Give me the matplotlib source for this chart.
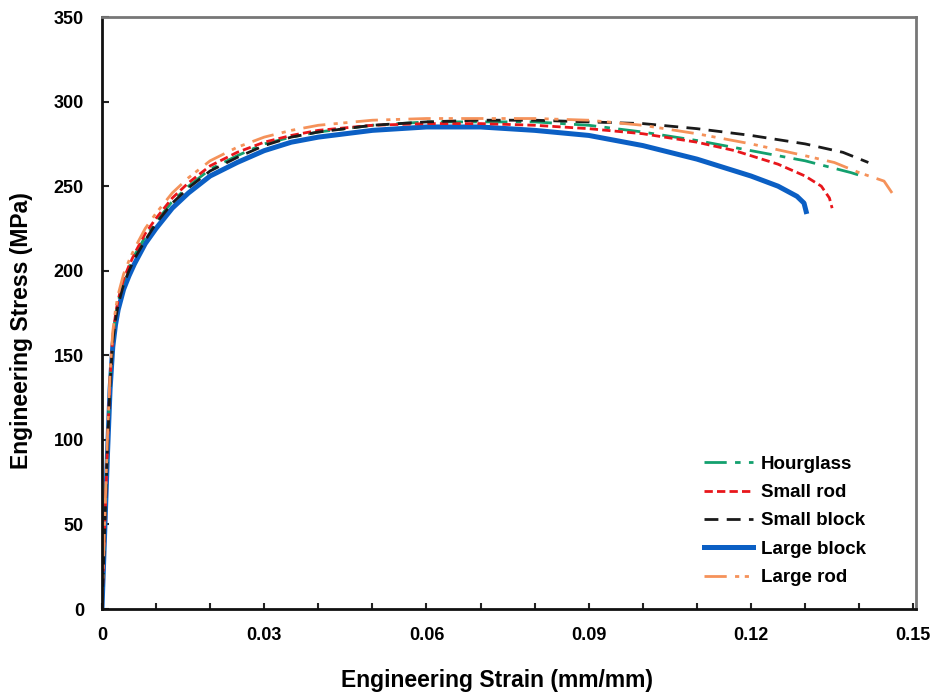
import matplotlib
matplotlib.use("Agg")
import matplotlib.pyplot as plt
from matplotlib.ticker import MultipleLocator

plt.rcParams["font.family"] = ["Liberation Sans", "DejaVu Sans"]
plt.rcParams["font.weight"] = "bold"

# strain (mm/mm) / stress (MPa)
hourglass_strain = [0, 0.0005, 0.001, 0.0015, 0.002, 0.0025, 0.003, 0.004, 0.005, 0.006, 0.008,
                    0.010, 0.013, 0.016, 0.020, 0.025, 0.030, 0.035, 0.040, 0.050, 0.060, 0.070,
                    0.080, 0.090, 0.100, 0.110, 0.120, 0.130, 0.1385, 0.1405]
hourglass_stress = [0, 48, 95, 135, 160, 173, 182, 194, 202, 209, 220,
                    229, 241, 250, 260, 268, 275, 279, 282, 286, 288, 288,
                    288, 286, 282, 277, 271, 265, 258, 256]

small_rod_strain = [0, 0.0005, 0.001, 0.0015, 0.002, 0.0025, 0.003, 0.004, 0.005, 0.006, 0.008,
                    0.010, 0.013, 0.016, 0.020, 0.025, 0.030, 0.035, 0.040, 0.050, 0.060, 0.070,
                    0.080, 0.090, 0.100, 0.110, 0.117, 0.125, 0.130, 0.133, 0.1345, 0.135]
small_rod_stress = [0, 48, 95, 136, 161, 174, 183, 195, 203, 210, 222,
                    231, 243, 252, 262, 270, 276, 280, 283, 286, 287, 287,
                    286, 284, 281, 276, 271, 263, 256, 250, 243, 237]

small_block_strain = [0, 0.0005, 0.001, 0.0015, 0.002, 0.0025, 0.003, 0.004, 0.005, 0.006, 0.008,
                      0.010, 0.013, 0.016, 0.020, 0.025, 0.030, 0.035, 0.040, 0.050, 0.060, 0.070,
                      0.080, 0.090, 0.100, 0.110, 0.120, 0.130, 0.137, 0.1417]
small_block_stress = [0, 46, 93, 133, 158, 171, 180, 192, 200, 207, 218,
                      228, 240, 249, 259, 267, 274, 279, 282, 286, 288, 289,
                      289, 288, 287, 284, 280, 275, 270, 264]

large_block_strain = [0, 0.0005, 0.001, 0.0015, 0.002, 0.0025, 0.003, 0.004, 0.005, 0.006, 0.008,
                      0.010, 0.013, 0.016, 0.020, 0.025, 0.030, 0.035, 0.040, 0.050, 0.060, 0.070,
                      0.080, 0.090, 0.100, 0.110, 0.120, 0.125, 0.1285, 0.1298, 0.1302]
large_block_stress = [0, 45, 90, 130, 155, 168, 177, 189, 197, 204, 216,
                      225, 237, 246, 256, 264, 271, 276, 279, 283, 285, 285,
                      283, 280, 274, 266, 256, 250, 244, 240, 235]

large_rod_strain = [0, 0.0005, 0.001, 0.0015, 0.002, 0.0025, 0.003, 0.004, 0.005, 0.006, 0.008,
                    0.010, 0.013, 0.016, 0.020, 0.025, 0.030, 0.035, 0.040, 0.050, 0.060, 0.070,
                    0.080, 0.090, 0.100, 0.110, 0.120, 0.130, 0.1354, 0.140, 0.1446, 0.1465]
large_rod_stress = [0, 52, 100, 140, 164, 177, 186, 198, 206, 213, 225,
                    234, 246, 255, 265, 273, 279, 283, 286, 289, 290, 290,
                    290, 289, 286, 281, 275, 268, 264, 258, 253, 244]

series = [
    ("Hourglass", hourglass_strain, hourglass_stress, "#13a06e", (0, (8, 3, 2, 3)), 2.0),
    ("Small rod", small_rod_strain, small_rod_stress, "#e8161b", (0, (3, 1.5)), 2.0),
    ("Small block", small_block_strain, small_block_stress, "#1a1a1a", (0, (5, 3)), 2.0),
    ("Large block", large_block_strain, large_block_stress, "#0b5fc4", "-", 3.6),
    ("Large rod", large_rod_strain, large_rod_stress, "#f5925a", (0, (8, 3, 1.5, 2, 1.5, 3)), 2.0),
]
legend_order = ["Hourglass", "Small rod", "Small block", "Large block", "Large rod"]

fig = plt.figure(figsize=(9.38, 6.95), dpi=100)
ax = fig.add_axes([0.1087, 0.1237, 0.8678, 0.8518])

# blue goes underneath the dashed ones
lines = {}
for label, x, y, color, ls, lw in [series[3], series[0], series[1], series[2], series[4]]:
    lines[label], = ax.plot(x, y, color=color, linestyle=ls, linewidth=lw, label=label)

ax.set_xlim(0, 0.1505)
ax.set_ylim(0, 350)
ax.set_xticks([0, 0.03, 0.06, 0.09, 0.12, 0.15])
ax.set_xticklabels(["0", "0.03", "0.06", "0.09", "0.12", "0.15"])
ax.xaxis.set_minor_locator(MultipleLocator(0.01))
ax.yaxis.set_major_locator(MultipleLocator(50))
ax.tick_params(axis="both", which="both", direction="in", labelsize=13, width=1.5, color="#222222")
ax.tick_params(axis="x", which="both", length=4, pad=13)
ax.tick_params(axis="y", which="major", length=5, pad=13)

for side in ["left", "bottom"]:
    ax.spines[side].set_linewidth(2.0)
    ax.spines[side].set_color("#111111")
for side in ["top", "right"]:
    ax.spines[side].set_linewidth(2.0)
    ax.spines[side].set_color("#777777")

ax.set_xlabel("Engineering Strain (mm/mm)", fontsize=16.5, fontweight="bold")
ax.set_ylabel("Engineering Stress (MPa)", fontsize=16.5, fontweight="bold")
ax.xaxis.set_label_coords(0.485, -0.102)
ax.yaxis.set_label_coords(-0.085, 0.47)

ax.legend([lines[n] for n in legend_order], legend_order,
          loc="lower right", bbox_to_anchor=(0.959, 0.01), frameon=False,
          fontsize=13.5, handlelength=2.6, handletextpad=0.4, labelspacing=0.6)

fig.savefig("out.png", dpi=100)
